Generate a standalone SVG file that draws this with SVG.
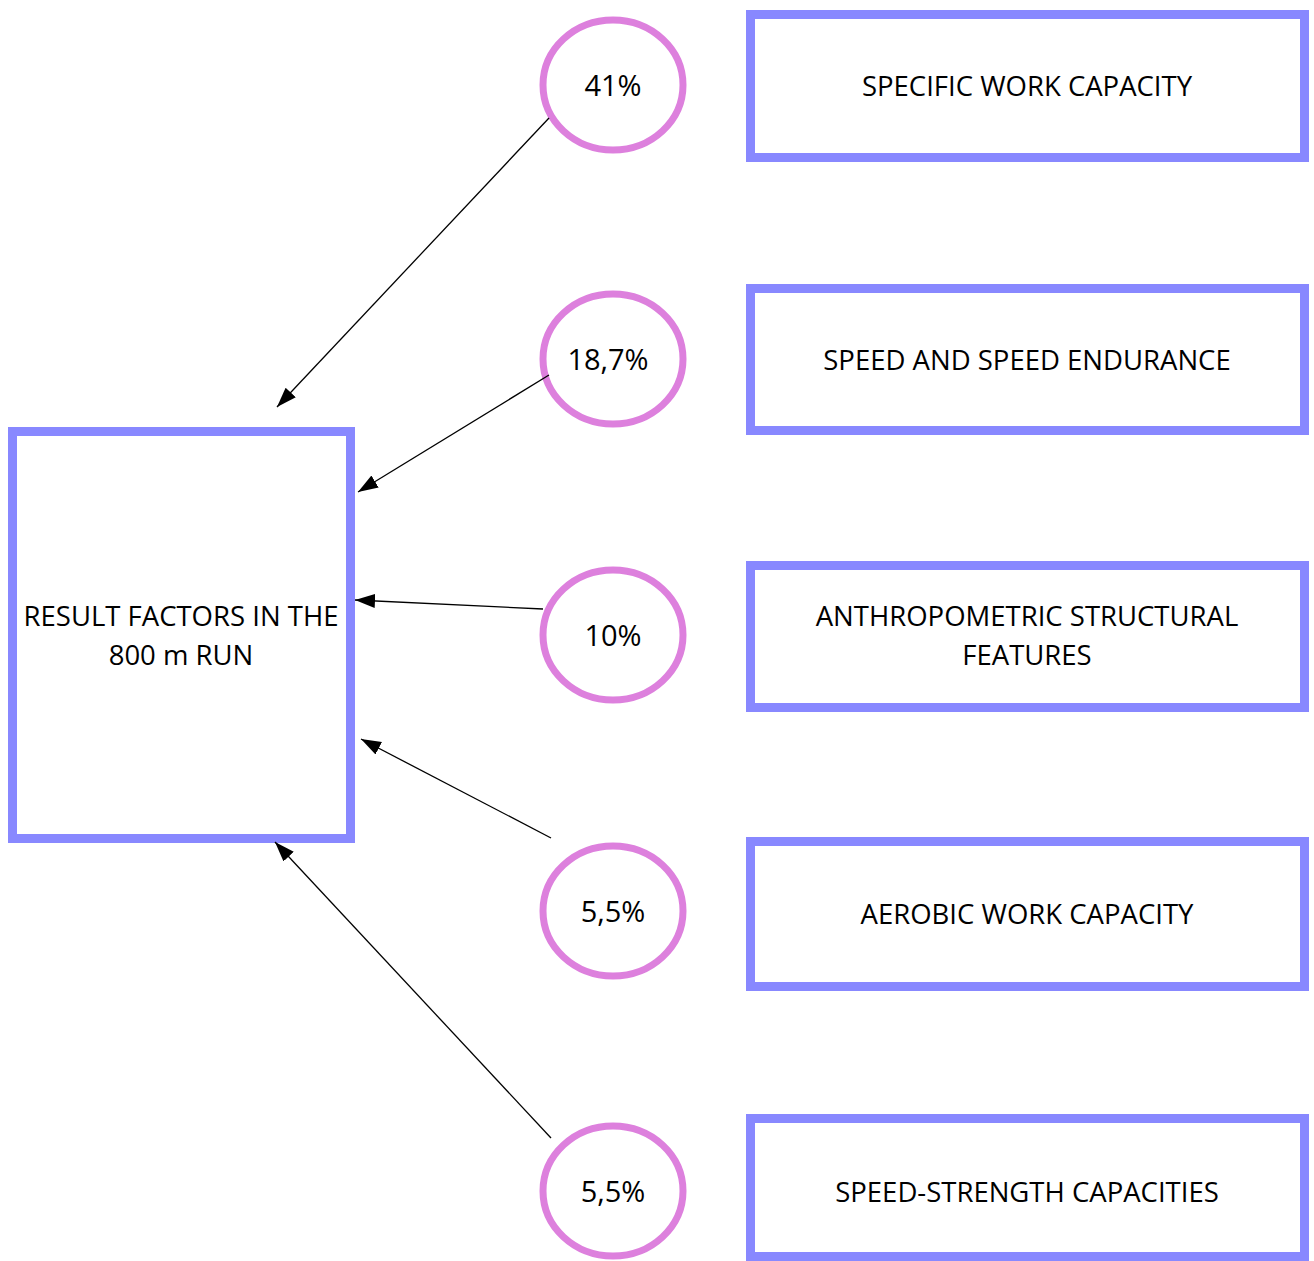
<svg xmlns="http://www.w3.org/2000/svg" width="1314" height="1261" viewBox="0 0 1314 1261">
<style>
.box{fill:#fff;stroke:#8888FF;stroke-width:9}
.circ{fill:#fff;stroke:#DD80DD;stroke-width:7}
.t{font-family:"Open Sans","Liberation Sans",sans-serif;font-size:27.5px;fill:#000;text-anchor:middle}
.p{font-size:29px}
.c{stroke:#000;stroke-width:1.3;fill:none;marker-end:url(#ah)}
</style>
<defs>
<marker id="ah" markerUnits="userSpaceOnUse" markerWidth="22" markerHeight="16" refX="20" refY="7" orient="auto">
<path d="M0,0 L20,7 L0,14 Z" fill="#000"/>
</marker>
</defs>
<rect width="1314" height="1261" fill="#fff"/>
<g id="main">
<rect class="box" x="12.5" y="431.5" width="338" height="407"/>
<text class="t" x="181" y="626">RESULT FACTORS IN THE</text>
<text class="t" x="181" y="665">800 m RUN</text>
</g>
<g id="box1"><rect class="box" x="750.5" y="14.5" width="554" height="143"/><text class="t" x="1027" y="96">SPECIFIC WORK CAPACITY</text></g>
<g id="box2"><rect class="box" x="750.5" y="288.5" width="554" height="142"/><text class="t" x="1027" y="370">SPEED AND SPEED ENDURANCE</text></g>
<g id="box3"><rect class="box" x="750.5" y="565.5" width="554" height="142"/><text class="t" x="1027" y="626">ANTHROPOMETRIC STRUCTURAL</text><text class="t" x="1027" y="665">FEATURES</text></g>
<g id="box4"><rect class="box" x="750.5" y="841.5" width="554" height="145"/><text class="t" x="1027" y="924">AEROBIC WORK CAPACITY</text></g>
<g id="box5"><rect class="box" x="750.5" y="1118.5" width="554" height="138"/><text class="t" x="1027" y="1202">SPEED-STRENGTH CAPACITIES</text></g>
<g id="p1"><ellipse class="circ" cx="613" cy="85" rx="70" ry="65"/><text class="t p" x="613" y="96">41%</text></g>
<g id="p2"><ellipse class="circ" cx="613" cy="359" rx="70" ry="65"/><text class="t p" x="608" y="370">18,7%</text></g>
<g id="p3"><ellipse class="circ" cx="613" cy="635" rx="70" ry="65"/><text class="t p" x="613" y="646">10%</text></g>
<g id="p4"><ellipse class="circ" cx="613" cy="911" rx="70" ry="65"/><text class="t p" x="613" y="922">5,5%</text></g>
<g id="p5"><ellipse class="circ" cx="613" cy="1191" rx="70" ry="65"/><text class="t p" x="613" y="1202">5,5%</text></g>
<g id="connectors">
<line class="c" x1="549" y1="118" x2="277" y2="407"/>
<line class="c" x1="549" y1="375" x2="358" y2="492"/>
<line class="c" x1="543" y1="609" x2="355" y2="600"/>
<line class="c" x1="551" y1="838" x2="361" y2="739"/>
<line class="c" x1="551" y1="1138" x2="275" y2="842"/>
</g>
</svg>
